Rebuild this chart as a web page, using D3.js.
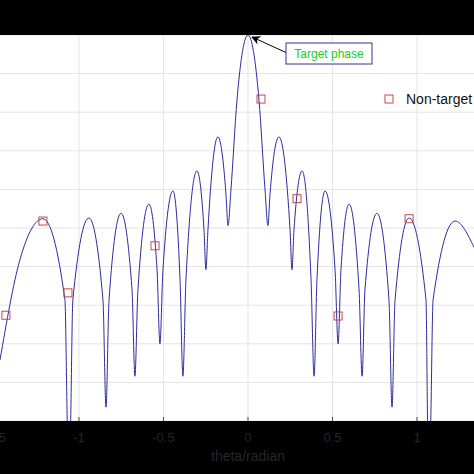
<!DOCTYPE html>
<html><head><meta charset="utf-8">
<script src="https://cdn.jsdelivr.net/npm/d3@7"></script>
<style>body{margin:0;background:#000}</style>
</head><body>
<svg id="c" width="474" height="474"></svg>
<script>
// beam pattern (theta in rad, level in dB)
const theta = [-1.467,-1.349,-1.213,-1.083,-1.065,-1.053,-1.036,-0.941,-0.858,-0.840,-0.822,-0.751,-0.686,-0.669,-0.651,-0.586,-0.538,-0.521,-0.503,-0.444,-0.402,-0.385,-0.367,-0.302,-0.260,-0.249,-0.237,-0.178,-0.130,-0.118,-0.101,-0.065,0,0.065,0.101,0.118,0.130,0.183,0.249,0.260,0.272,0.320,0.373,0.391,0.408,0.456,0.515,0.533,0.550,0.598,0.657,0.675,0.692,0.763,0.834,0.852,0.870,0.953,1.053,1.065,1.077,1.095,1.225,1.337];
const level = [-42.1,-29.1,-23.8,-34.3,-52.5,-52.5,-34.3,-23.7,-34.3,-48.2,-34.3,-23.1,-33.0,-44.2,-33.0,-21.9,-30.4,-40.0,-30.4,-20.2,-31.7,-44.2,-31.7,-17.6,-25.3,-30.4,-25.3,-13.2,-20.7,-24.7,-20.1,-8.4,0,-8.4,-20.1,-24.7,-20.7,-13.2,-25.3,-30.4,-25.3,-17.6,-31.7,-44.2,-31.7,-20.2,-30.4,-40.0,-30.4,-21.9,-33.0,-44.2,-33.0,-23.1,-34.3,-48.2,-34.3,-23.7,-34.3,-52.5,-52.5,-34.3,-24.1,-27.5];
const userTheta = [-1.432,-1.213,-1.065,-0.550,0.077,0.290,0.533,0.953];
const userLevel = [-36.3,-24.1,-33.4,-27.3,-8.3,-21.2,-36.4,-23.8];
const xTicks = [-1.5,-1,-0.5,0,0.5,1];
const yTicks = d3.range(-50,1,5);

const svg = d3.select('#c');
const L=0,R=474,T=35,B=421;
const x = d3.scaleLinear().domain([-1.467,1.337]).range([L,R]);
const y = d3.scaleLinear().domain([-50,0]).range([B,T]);

svg.append('defs').append('clipPath').attr('id','clip')
  .append('rect').attr('x',L).attr('y',T).attr('width',R-L).attr('height',B-T);
svg.append('rect').attr('x',L).attr('y',T).attr('width',R-L).attr('height',B-T).attr('fill','#fff');

const g = svg.append('g').attr('clip-path','url(#clip)');
g.selectAll('.gx').data(xTicks).join('line')
  .attr('x1',d=>x(d)).attr('x2',d=>x(d)).attr('y1',T).attr('y2',B)
  .attr('stroke','#e4e4e4');
g.selectAll('.gy').data(yTicks).join('line')
  .attr('y1',d=>y(d)).attr('y2',d=>y(d)).attr('x1',L).attr('x2',R)
  .attr('stroke','#e4e4e4');
g.selectAll('.tk').data(xTicks).join('line')
  .attr('x1',d=>x(d)).attr('x2',d=>x(d)).attr('y1',B).attr('y2',B-4)
  .attr('stroke','#444');

const pts = theta.map((t,i)=>[t,level[i]]);
g.append('path').datum(pts)
  .attr('d',d3.line().x(d=>x(d[0])).y(d=>y(d[1])).curve(d3.curveMonotoneX))
  .attr('fill','none').attr('stroke','#2c2ca0').attr('stroke-width',1);

g.selectAll('.m').data(userTheta).join('rect')
  .attr('x',(d)=>x(d)-4).attr('y',(d,i)=>y(userLevel[i])-4)
  .attr('width',8).attr('height',8)
  .attr('fill','none').attr('stroke','#c84848').attr('stroke-width',1);

// legend
svg.append('rect').attr('x',385).attr('y',95).attr('width',8).attr('height',8)
  .attr('fill','none').attr('stroke','#c84848');
svg.append('text').attr('x',406).attr('y',104).text('Non-target Users')
  .attr('font-family','Liberation Sans, Arial').attr('font-size',14).attr('fill','#111');

// annotation
svg.append('defs').append('marker').attr('id','ah').attr('viewBox','0 0 10 10')
  .attr('refX',9).attr('refY',5).attr('markerWidth',9).attr('markerHeight',9).attr('orient','auto')
  .append('path').attr('d','M0,0L10,5L0,10L3,5Z').attr('fill','#000');
svg.append('line').attr('x1',287).attr('y1',53).attr('x2',252).attr('y2',37)
  .attr('stroke','#000').attr('marker-end','url(#ah)');
svg.append('rect').attr('x',286).attr('y',43).attr('width',86).attr('height',21)
  .attr('fill','#fff').attr('stroke','#33338a');
svg.append('text').attr('x',329).attr('y',58).attr('text-anchor','middle').text('Target phase')
  .attr('font-family','Liberation Sans, Arial').attr('font-size',12).attr('fill','#22cc22');

// axis labels (dark on black)
svg.selectAll('.xl').data(xTicks).join('text')
  .attr('x',d=>x(d)).attr('y',442).attr('text-anchor','middle')
  .text(d=>String(d)).attr('font-family','Liberation Sans, Arial')
  .attr('font-size',13).attr('fill','#262626');
svg.append('text').attr('x',248).attr('y',461).attr('text-anchor','middle').text('theta/radian')
  .attr('font-family','Liberation Sans, Arial').attr('font-size',14).attr('fill','#262626');
</script>
</body></html>
